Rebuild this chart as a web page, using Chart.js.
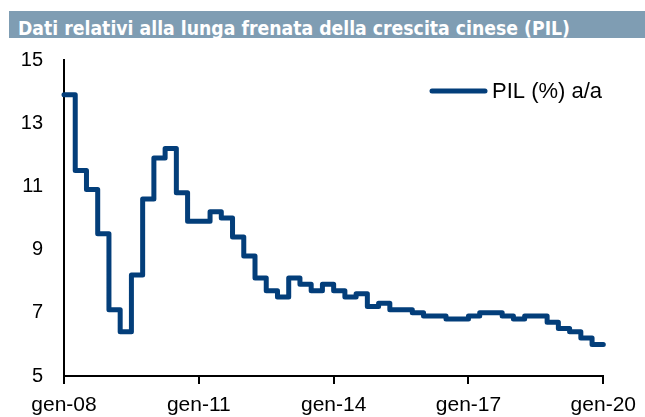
<!DOCTYPE html>
<html>
<head>
<meta charset="utf-8">
<script src="https://cdn.jsdelivr.net/npm/chart.js@4.4.1/dist/chart.umd.min.js"></script>
<style>
    html, body { margin: 0; padding: 0; background: #fff; }
    #wrap { position: relative; width: 645px; height: 417px; }
    #title {
        position: absolute; left: 9px; top: 11px; width: 636px; height: 27px;
        background: #7f9db3; overflow: hidden;
    }
    #title span {
        position: absolute; left: 9px; top: 8px; white-space: nowrap;
        color: #fff; font: bold 19.5px/19px "Liberation Sans Narrow", "DejaVu Sans Condensed", "Open Sans", sans-serif;
        transform-origin: 0 0;
    }
    #chart { position: absolute; left: 0; top: 0; }
</style>
</head>
<body>
<div id="wrap">
    <canvas id="chart" width="645" height="417"></canvas>
    <div id="title"><span>Dati relativi alla lunga frenata della crescita cinese (PIL)</span></div>
</div>
<script>
// trimestri (T1 = gen)
const quarters = [
    '2008T1', '2008T2', '2008T3', '2008T4', '2009T1', '2009T2', '2009T3', '2009T4',
    '2010T1', '2010T2', '2010T3', '2010T4', '2011T1', '2011T2', '2011T3', '2011T4',
    '2012T1', '2012T2', '2012T3', '2012T4', '2013T1', '2013T2', '2013T3', '2013T4',
    '2014T1', '2014T2', '2014T3', '2014T4', '2015T1', '2015T2', '2015T3', '2015T4',
    '2016T1', '2016T2', '2016T3', '2016T4', '2017T1', '2017T2', '2017T3', '2017T4',
    '2018T1', '2018T2', '2018T3', '2018T4', '2019T1', '2019T2', '2019T3', '2019T4',
];
const pil = [
    13.9, 11.5, 10.9, 9.5, 7.1, 6.4, 8.2, 10.6,
    11.9, 12.2, 10.8, 9.9, 9.9, 10.2, 10.0, 9.4,
    8.8, 8.1, 7.7, 7.5, 8.1, 7.9, 7.7, 7.9,
    7.7, 7.5, 7.6, 7.2, 7.3, 7.1, 7.1, 7.0,
    6.9, 6.9, 6.8, 6.8, 6.9, 7.0, 7.0, 6.9,
    6.8, 6.9, 6.9, 6.7, 6.5, 6.4, 6.2, 6.0,
];
const seriesLabel = 'PIL (%) a/a';
const xTickLabels = ['gen-08', 'gen-11', 'gen-14', 'gen-17', 'gen-20'];
const yTicks = [5, 7, 9, 11, 13, 15];

const lineColor = '#033e7a';

function quarterToYear(q) {
    return Number(q.slice(0, 4)) + (Number(q.slice(5)) - 1) / 4;
}

const points = quarters.map((q, i) => ({ x: quarterToYear(q), y: pil[i] }));
// chiude l'ultimo gradino a fine periodo
points.push({ x: points[points.length - 1].x + 0.25, y: pil[pil.length - 1] });

const xMin = quarterToYear(quarters[0]);

const inlineLegend = {
    id: 'inlineLegend',
    afterDatasetsDraw(chart) {
        const ctx = chart.ctx;
        const ds = chart.data.datasets[0];
        ctx.save();
        ctx.strokeStyle = ds.borderColor;
        ctx.lineWidth = 5;
        ctx.lineCap = 'round';
        ctx.beginPath();
        ctx.moveTo(432, 91);
        ctx.lineTo(485, 91);
        ctx.stroke();
        ctx.fillStyle = '#000';
        ctx.font = '22px "Liberation Sans", Arial, sans-serif';
        ctx.textBaseline = 'middle';
        ctx.fillText(ds.label, 492, 92);
        ctx.restore();
    },
};

new Chart(document.getElementById('chart'), {
    type: 'line',
    data: {
        datasets: [{
            label: seriesLabel,
            data: points,
            borderColor: lineColor,
            backgroundColor: lineColor,
            borderWidth: 5,
            stepped: 'before',
            pointRadius: 0,
            fill: false,
            borderJoinStyle: 'round',
            borderCapStyle: 'round',
            clip: false,
        }],
    },
    options: {
        responsive: false,
        animation: false,
        layout: { padding: { top: 60, right: 41, left: 0, bottom: 0 } },
        scales: {
            x: {
                type: 'linear',
                min: xMin,
                max: xMin + 12,
                afterBuildTicks: (scale) => {
                    scale.ticks = xTickLabels.map((_, i) => ({ value: xMin + i * 3 }));
                },
                afterFit: (scale) => { scale.height = 41; },
                grid: { drawOnChartArea: false, drawTicks: true, tickLength: 8, color: '#000', lineWidth: 2 },
                border: { display: true, color: '#000', width: 2 },
                ticks: {
                    color: '#000',
                    padding: 9,
                    maxRotation: 0,
                    font: { family: '"Liberation Sans", Arial, sans-serif', size: 21 },
                    callback: (v) => xTickLabels[Math.round((v - xMin) / 3)],
                },
            },
            y: {
                min: yTicks[0],
                max: yTicks[yTicks.length - 1],
                afterBuildTicks: (scale) => {
                    scale.ticks = yTicks.map((v) => ({ value: v }));
                },
                afterFit: (scale) => { scale.width = 64; },
                grid: { display: false, drawTicks: false },
                border: { display: true, color: '#000', width: 2 },
                ticks: {
                    color: '#000',
                    padding: 21,
                    font: { family: '"Liberation Sans", Arial, sans-serif', size: 20 },
                },
            },
        },
        plugins: {
            legend: { display: false },
            tooltip: { enabled: false },
        },
    },
    plugins: [inlineLegend],
});

// adatta la larghezza del titolo a quella dell'originale
const titleSpan = document.querySelector('#title span');
const w = titleSpan.getBoundingClientRect().width;
titleSpan.style.transform = 'scaleX(' + (552 / w) + ')';
</script>
</body>
</html>
